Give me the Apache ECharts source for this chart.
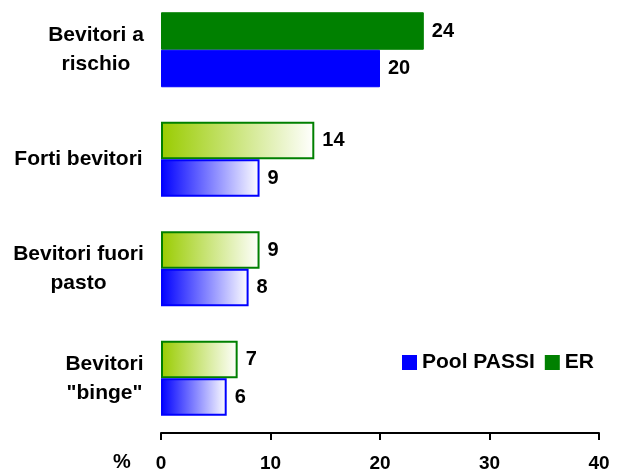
<!DOCTYPE html>
<html>
<head>
<meta charset="utf-8">
<script src="https://cdn.jsdelivr.net/npm/echarts@6/dist/echarts.min.js"></script>
<style>
  html, body { margin: 0; padding: 0; background: #fff; }
  #chart { width: 617px; height: 471px; }
</style>
</head>
<body>
<div id="chart"></div>
<script>
// dati
const categories = ['Bevitori a\nrischio', 'Forti bevitori', 'Bevitori fuori\npasto', 'Bevitori\n"binge"']
const erValues = [24, 14, 9, 7]
const poolValues = [20, 9, 8, 6]
const seriesNames = ['ER', 'Pool PASSI']
const xTicks = [0, 10, 20, 30, 40]

const FONT = '"Liberation Sans", Arial, sans-serif'

// prima categoria piena, le altre sfumate verso il bianco
const makeData = (values, solid, light) =>
  values.map((v, i) => ({
    value: v,
    itemStyle: i === 0
      ? { color: solid, borderColor: solid, borderWidth: 1 }
      : {
          color: new echarts.graphic.LinearGradient(0, 0, 1, 0, [
            { offset: 0, color: light },
            { offset: 1, color: '#ffffff' },
          ]),
          borderColor: solid,
          borderWidth: 2,
        },
  }))

// larghezza dei blocchi etichetta, per centrare le righe
const labelWidths = [96, 131, 131, 79]
const rich = {}
labelWidths.forEach((w, i) => {
  rich['c' + i] = { width: w, align: 'center', fontSize: 21, fontWeight: 'bold', fontFamily: FONT, color: '#000', lineHeight: 29 }
})

const chart = echarts.init(document.getElementById('chart'))

const labelStyle = {
  show: true,
  position: 'right',
  distance: 8,
  fontSize: 20,
  fontWeight: 'bold',
  fontFamily: FONT,
  color: '#000',
}

chart.setOption({
  animation: false,
  grid: { left: 161, right: 18, top: -5, bottom: 38, outerBoundsMode: 'none' },
  legend: {
    data: ['Pool PASSI', 'ER'],
    left: 397,
    top: 347,
    icon: 'rect',
    itemWidth: 15,
    itemHeight: 15,
    itemGap: 10,
    textStyle: { fontSize: 21, fontWeight: 'bold', fontFamily: FONT, color: '#000' },
  },
  graphic: [
    {
      type: 'text',
      left: 113,
      top: 452,
      style: { text: '%', fontSize: 20, fontWeight: 'bold', fontFamily: FONT, fill: '#000' },
    },
  ],
  xAxis: {
    type: 'value',
    min: xTicks[0],
    max: xTicks[xTicks.length - 1],
    interval: 10,
    axisLine: { show: true, lineStyle: { color: '#000', width: 2 } },
    axisTick: { show: true, inside: false, length: 7, lineStyle: { color: '#000', width: 2 } },
    splitLine: { show: false },
    axisLabel: { margin: 21, fontSize: 19, fontWeight: 'bold', fontFamily: FONT, color: '#000' },
  },
  yAxis: {
    type: 'category',
    inverse: true,
    data: categories,
    axisLine: { show: false },
    axisTick: { show: false },
    axisLabel: {
      margin: 17,
      formatter: (val, idx) => val.split('\n').map((l) => '{c' + idx + '|' + l + '}').join('\n'),
      rich,
    },
  },
  series: [
    {
      name: seriesNames[0],
      type: 'bar',
      barWidth: 37.5,
      barGap: 0,
      color: '#008000',
      data: makeData(erValues, '#008000', '#99cc00'),
      label: labelStyle,
    },
    {
      name: seriesNames[1],
      type: 'bar',
      barWidth: 37.5,
      barGap: 0,
      color: '#0000ff',
      data: makeData(poolValues, '#0000ff', '#0000ff'),
      label: labelStyle,
    },
  ],
})
</script>
</body>
</html>
